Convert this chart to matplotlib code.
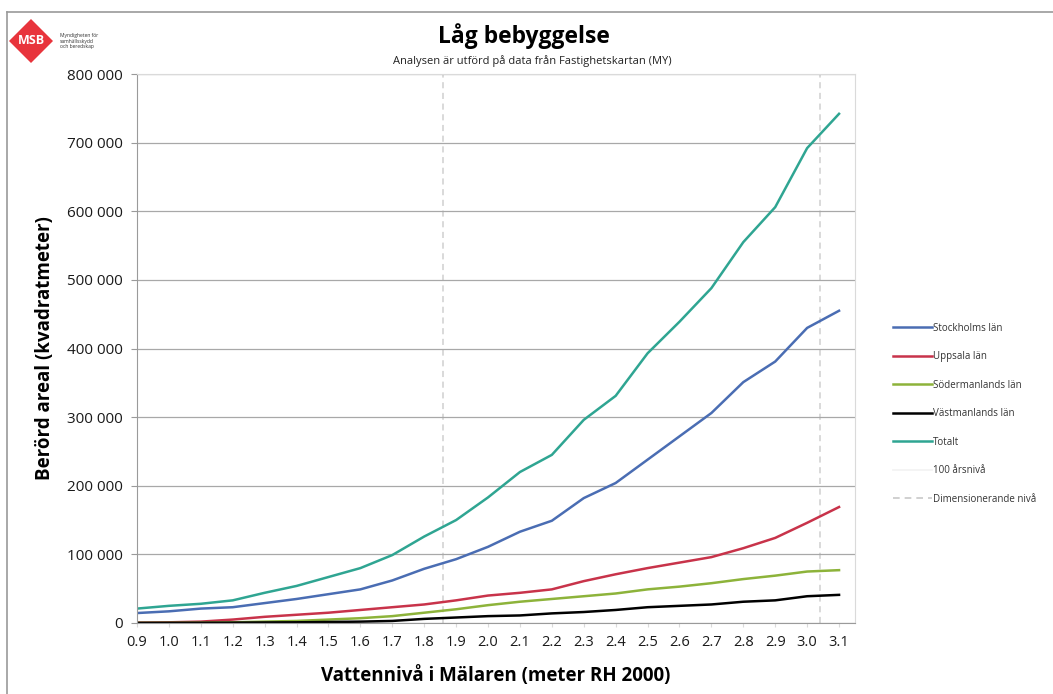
import matplotlib
matplotlib.use("Agg")
import matplotlib.pyplot as plt
from matplotlib.patches import Polygon
from matplotlib.lines import Line2D
from matplotlib.ticker import FuncFormatter

plt.rcParams['font.family'] = ['Open Sans', 'DejaVu Sans']

# Data
levels = [0.9, 1.0, 1.1, 1.2, 1.3, 1.4, 1.5, 1.6, 1.7, 1.8, 1.9, 2.0,
          2.1, 2.2, 2.3, 2.4, 2.5, 2.6, 2.7, 2.8, 2.9, 3.0, 3.1]
stockholm = [14500, 17000, 21000, 23000, 29000, 35000, 42000, 49000, 62000, 79000, 93000, 111000,
             133000, 149000, 182000, 204000, 238000, 272000, 306000, 351000, 381000, 430000, 455000]
uppsala = [500, 1000, 2000, 5000, 9000, 12000, 15000, 19000, 23000, 27000, 33000, 40000,
           44000, 49000, 61000, 71000, 80000, 88000, 96000, 109000, 124000, 146000, 169000]
sodermanland = [200, 300, 500, 1000, 2000, 3000, 5000, 7000, 10000, 15000, 20000, 26000,
                31000, 35000, 39000, 43000, 49000, 53000, 58000, 64000, 69000, 75000, 77000]
vastmanland = [100, 200, 300, 500, 800, 1000, 1500, 2000, 3000, 6000, 8000, 10000,
               11000, 14000, 16000, 19000, 23000, 25000, 27000, 31000, 33000, 39000, 41000]
totalt = [21000, 25000, 28000, 33000, 44000, 54000, 67000, 80000, 99000, 126000, 150000, 183000,
          220000, 245000, 296000, 331000, 393000, 439000, 488000, 555000, 606000, 692000, 742000]
series_names = ["Stockholms län", "Uppsala län", "Södermanlands län", "Västmanlands län", "Totalt"]
series_colors = ["#4A6DB3", "#C8334A", "#8DB33A", "#000000", "#2FA592"]
level_100yr = 1.86
level_dim = 3.04
x_ticks = levels
y_ticks = [0, 100000, 200000, 300000, 400000, 500000, 600000, 700000, 800000]

fig = plt.figure(figsize=(10.53, 6.94), dpi=100)
ax = fig.add_axes([137/1053, 1-623/694, (855-137)/1053, (623-74)/694])

for name, vals, col in zip(series_names, [stockholm, uppsala, sodermanland, vastmanland, totalt], series_colors):
    ax.plot(levels, vals, color=col, lw=1.8, label=name)

ax.axvline(level_100yr, color="#CFCFCF", lw=1.1, ls=(0, (4, 3)), zorder=0)
ax.axvline(level_dim, color="#CFCFCF", lw=1.1, ls=(0, (4, 3)), zorder=0)
# legend proxies
ax.plot([], [], color="#F2F2F2", lw=1.2, label="100 årsnivå")
ax.plot([], [], color="#C8C8C8", lw=1.2, ls=(0, (4, 3)), label="Dimensionerande nivå")

ax.set_xlim(0.9, 3.15)
ax.set_ylim(0, 800000)
ax.set_xticks(x_ticks)
ax.set_xticklabels([f"{v:.1f}" for v in x_ticks])
ax.set_yticks(y_ticks)
ax.yaxis.set_major_formatter(FuncFormatter(lambda v, p: f"{int(v):,}".replace(",", " ")))
ax.grid(axis='y', color="#A8A8A8", lw=0.9)
ax.set_axisbelow(True)
for s in ['top', 'right']:
    ax.spines[s].set_color("#DADADA")
for s in ['left', 'bottom']:
    ax.spines[s].set_color("#9A9A9A")
ax.tick_params(axis='y', length=4, color="#9A9A9A", labelsize=11, labelcolor="#1A1A1A", pad=6)
ax.tick_params(axis='x', length=3, color="#DADADA", labelsize=10.5, labelcolor="#1A1A1A", pad=6)

ax.set_ylabel("Berörd areal (kvadratmeter)", fontsize=13.5, fontweight='bold', labelpad=9)
ax.set_xlabel("Vattennivå i Mälaren (meter RH 2000)", fontsize=13.5, fontweight='bold', labelpad=11)

fig.text(524/1053, 1-36/694, "Låg bebyggelse", fontsize=16.5, fontweight='bold', ha='center', va='center')
fig.text(532/1053, 1-61/694, "Analysen är utförd på data från Fastighetskartan (MY)", fontsize=8,
         ha='center', va='center', color="#222222")

leg = ax.legend(loc='upper left', bbox_to_anchor=(889/1053, 1-319/694), bbox_transform=fig.transFigure,
                frameon=False, fontsize=7, handlelength=4.0, handletextpad=0.1,
                labelspacing=1.8, borderaxespad=0)
for t in leg.get_texts():
    t.set_color("#333333")

# frame
fig.add_artist(Line2D([7/1053, 1], [1-12/694, 1-12/694], color="#9A9A9A", lw=1.2, transform=fig.transFigure))
fig.add_artist(Line2D([7/1053, 7/1053], [0, 1-12/694], color="#9A9A9A", lw=1.2, transform=fig.transFigure))

# logo
cx, cy, r = 31/1053, 1-41/694, 22
diamond = Polygon([(cx - r/1053, cy), (cx, cy + r/694), (cx + r/1053, cy), (cx, cy - r/694)],
                  closed=True, transform=fig.transFigure, facecolor="#E8343C", edgecolor="none")
fig.add_artist(diamond)
fig.text(cx, cy, "MSB", fontsize=9, fontweight='bold', color='white', ha='center', va='center')
fig.text(60/1053, 1-41/694, "Myndigheten för\nsamhällsskydd\noch beredskap", fontsize=3.6,
         ha='left', va='center', color="#333333", linespacing=1.2)

fig.savefig("out.png", dpi=100)
